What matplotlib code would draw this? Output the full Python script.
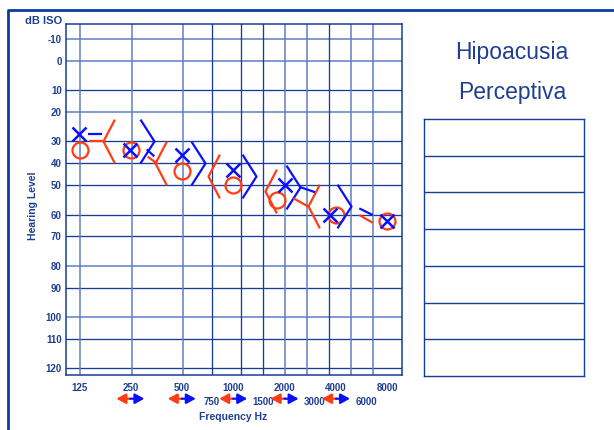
import matplotlib
matplotlib.use("Agg")
import matplotlib.pyplot as plt
import numpy as np
from matplotlib.path import Path
from matplotlib.markers import MarkerStyle
from matplotlib.transforms import ScaledTranslation
from matplotlib.lines import Line2D

plt.rcParams["font.family"] = ["Liberation Sans", "DejaVu Sans"]

# ---- data ----
FREQS = [125, 250, 500, 1000, 2000, 4000, 8000]
FREQ_LABELS = ["125", "250", "500", "1000", "2000", "4000", "8000"]
MID_FREQS = [750, 1500, 3000, 6000]
MID_LABELS = ["750", "1500", "3000", "6000"]
LEFT_AIR = [27.5, 34, 36.5, 43, 50, 60, 63]      # blue X
RIGHT_AIR = [34, 34, 43.5, 50, 55, 60, 63]       # red O
BC_FREQS = [250, 500, 1000, 2000, 4000]
RIGHT_BONE = [30, 40, 46, 52, 57]                # red <
LEFT_BONE = [30, 40, 46, 50.5, 57]               # blue >
DB_TICKS = list(range(-10, 121, 10))
ARROW_FREQS = [250, 500, 1000, 2000, 4000]
# short connecting dashes (freq pair, dB pair)
SEG_BLUE_F = [(141.6, 170.6), (311.5, 345), (2439, 3014), (5477, 6563)]
SEG_BLUE_DB = [(27.6, 27.6), (33.8, 37.0), (50.6, 52.4), (57.8, 60.0)]
SEG_RED_F = [(143.2, 172.9), (315.7, 361.4), (2250, 2754), (5477, 6563)]
SEG_RED_DB = [(30.2, 30.2), (37.1, 40.5), (54.4, 57.2), (60.0, 63.7)]

# ---- layout (pixels of the 614x430 picture) ----
W, H = 614, 430
AX_L, AX_R, AX_T, AX_B = 66, 402, 24, 375
GRID_Y_PX = [39, 61, 90, 112, 141, 163, 185, 215, 236, 266, 288, 317, 339, 368]
GRID_X_PX = [80, 132, 183, 212, 241, 263, 285, 307, 329, 351, 373]
LIGHT_X = {80, 132, 183, 285, 307, 351, 373}
LIGHT_Y = {-10, 0, 20, 80, 100}
PX_125, PX_OCT = 79, 51.4
X_NUDGE = [0, 0, 0, 0, 0, -6, 0]
O_NUDGE = [1, 1, 0, 0, -8, 0, 0]
RED_BC_NUDGE = [-27, -27, -25, -20, -28]
BLUE_BC_NUDGE = [24, 23, 23, 15, 15]

TXT = "#1e3f93"
DARK = "#173d98"
LIGHT = "#5f7fc2"
BLUE = "#0a10ff"
RED = "#ff3c14"


def _lin_extrap(v, xs, ys):
    v = np.asarray(v, dtype=float)
    out = np.interp(v, xs, ys)
    s0 = (ys[1] - ys[0]) / (xs[1] - xs[0])
    s1 = (ys[-1] - ys[-2]) / (xs[-1] - xs[-2])
    out = np.where(v < xs[0], ys[0] + (v - xs[0]) * s0, out)
    out = np.where(v > xs[-1], ys[-1] + (v - xs[-1]) * s1, out)
    return out


def db_fwd(d):
    return _lin_extrap(d, DB_TICKS, GRID_Y_PX)


def db_inv(p):
    return _lin_extrap(p, GRID_Y_PX, DB_TICKS)


def chevron(depth, sign):
    verts = [(sign * depth, 1.0), (0.0, 0.0), (sign * depth, -1.0)]
    return MarkerStyle(Path(verts, [Path.MOVETO, Path.LINETO, Path.LINETO]))


fig = plt.figure(figsize=(W / 100, H / 100), dpi=100)
ax = fig.add_axes([AX_L / W, 1 - AX_B / H, (AX_R - AX_L) / W, (AX_B - AX_T) / H])

ax.set_xscale("log", base=2)
ax.set_xlim(125 * 2 ** ((AX_L - PX_125) / PX_OCT), 125 * 2 ** ((AX_R - PX_125) / PX_OCT))
ax.set_yscale("function", functions=(db_fwd, db_inv))
ax.set_ylim(float(db_inv(AX_B)), float(db_inv(AX_T)))

# grid
for d in DB_TICKS:
    lt = d in LIGHT_Y
    ax.axhline(d, color=LIGHT if lt else DARK, lw=1.1 if lt else 0.95, zorder=1)
for px in GRID_X_PX:
    lt = px in LIGHT_X
    xf = (px - AX_L) / (AX_R - AX_L)
    ax.plot([xf, xf], [0, 1], transform=ax.transAxes,
            color=LIGHT if lt else DARK, lw=1.1 if lt else 0.95, zorder=1)

for sp in ax.spines.values():
    sp.set_color(DARK)
    sp.set_linewidth(1.1)

ax.set_yticks(DB_TICKS, [str(d) for d in DB_TICKS], fontsize=7, fontweight="bold", color=TXT)
ax.set_xticks(FREQS, FREQ_LABELS, fontsize=7, fontweight="bold", color=TXT)
ax.set_xticks(MID_FREQS, MID_LABELS, minor=True, fontsize=7, fontweight="bold", color=TXT)
ax.tick_params(axis="y", length=0, pad=3)
ax.tick_params(axis="x", which="major", length=0, pad=6)
ax.tick_params(axis="x", which="minor", length=0, pad=16)


def shift(px):
    return ax.transData + ScaledTranslation(px / fig.dpi, 0, fig.dpi_scale_trans)


# air conduction
for f, d, n in zip(FREQS, RIGHT_AIR, O_NUDGE):
    ax.plot([f], [d], marker="o", ms=11.5, mfc="none", mec=RED, mew=1.6,
            transform=shift(n), zorder=4, clip_on=False)
for f, d, n in zip(FREQS, LEFT_AIR, X_NUDGE):
    ax.plot([f], [d], marker="x", ms=10, mec=BLUE, mew=1.8,
            transform=shift(n), zorder=5, clip_on=False)

# bone conduction chevrons
red_mk = chevron(0.52, 1)
blue_mk = chevron(0.64, -1)
for f, d, n in zip(BC_FREQS, RIGHT_BONE, RED_BC_NUDGE):
    ax.plot([f], [d], marker=red_mk, ms=31.5, mfc="none", mec=RED, mew=1.6,
            transform=shift(n), zorder=4)
for f, d, n in zip(BC_FREQS, LEFT_BONE, BLUE_BC_NUDGE):
    ax.plot([f], [d], marker=blue_mk, ms=31.5, mfc="none", mec=BLUE, mew=1.6,
            transform=shift(n), zorder=4)

for fs, ds in zip(SEG_BLUE_F, SEG_BLUE_DB):
    ax.plot(fs, ds, color=BLUE, lw=1.6, zorder=4, solid_capstyle="butt")
for fs, ds in zip(SEG_RED_F, SEG_RED_DB):
    ax.plot(fs, ds, color=RED, lw=1.6, zorder=4, solid_capstyle="butt")

# red/blue arrows under the axis
arrow_y = (AX_B - 398.7) / (AX_B - AX_T)
half = 14 / PX_OCT
xtr = ax.get_xaxis_transform()
for f in ARROW_FREQS:
    for col, sgn in ((RED, -1), (BLUE, 1)):
        ax.annotate("", xy=(f * 2 ** (sgn * half), arrow_y), xycoords=xtr,
                    xytext=(f, arrow_y), textcoords=xtr, annotation_clip=False,
                    arrowprops=dict(arrowstyle="-|>,head_length=0.55,head_width=0.3",
                                    color=col, lw=1.6, shrinkA=0, shrinkB=0))

# labels
fig.text(43.5 / W, 1 - 21 / H, "dB ISO", fontsize=8, fontweight="bold", color=TXT,
         ha="center", va="center")
fig.text(33 / W, 1 - 206 / H, "Hearing Level", fontsize=7.5, fontweight="bold", color=TXT,
         ha="center", va="center", rotation=90)
fig.text(233 / W, 1 - 417 / H, "Frequency Hz", fontsize=7.5, fontweight="bold", color=TXT,
         ha="center", va="center")
fig.text(512 / W, 1 - 52 / H, "Hipoacusia", fontsize=16.5, color=TXT, ha="center", va="center")
fig.text(512 / W, 1 - 93 / H, "Perceptiva", fontsize=16.5, color=TXT, ha="center", va="center")

# empty table on the right
tax = fig.add_axes([424 / W, 1 - 376 / H, 160 / W, 257 / H])
tax.set_xlim(0, 1)
tax.set_ylim(0, 7)
for k in range(1, 7):
    tax.axhline(k, color=DARK, lw=1.0)
tax.set_xticks([])
tax.set_yticks([])
for sp in tax.spines.values():
    sp.set_color(DARK)
    sp.set_linewidth(1.0)

# outer frame (left and top edges)
fig.add_artist(Line2D([8 / W, 8 / W, 1.0], [0.0, 1 - 10 / H, 1 - 10 / H],
                      transform=fig.transFigure, color="#0b3c9c", lw=2.0))

fig.savefig("out.png", dpi=100)
